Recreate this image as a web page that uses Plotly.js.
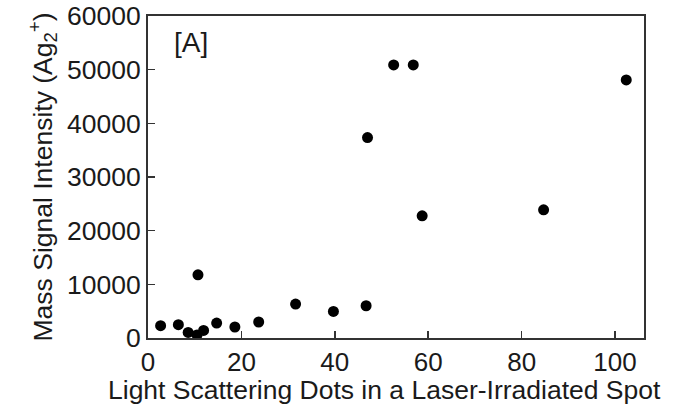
<!DOCTYPE html>
<html>
<head>
<meta charset="utf-8">
<script src="https://cdn.plot.ly/plotly-3.0.1.min.js"></script>
<style>html,body{margin:0;padding:0;background:#fff;}</style>
</head>
<body>
<div id="chart" style="width:673px;height:419px;"></div>
<script>
const dots = [2.7, 6.5, 8.6, 10.7, 10.5, 11.9, 14.7, 18.6, 23.7, 31.6, 39.7, 46.7, 47.0, 52.6, 56.8, 58.7, 84.7, 102.4];
const intensity = [2290, 2480, 1040, 11780, 560, 1420, 2790, 2050, 2980, 6330, 4950, 6010, 37340, 50880, 50880, 22770, 23880, 48090];
const xTicks = [0, 20, 40, 60, 80, 100];
const yTicks = [0, 10000, 20000, 30000, 40000, 50000, 60000];
const panelLabel = "[A]";
const xTitle = "Light Scattering Dots in a Laser-Irradiated Spot";
const yTitle = "Mass Signal Intensity (Ag<sub>2</sub><sup>+</sup>)";

const fontFam = "Liberation Sans, Arial, sans-serif";
const ink = "#1a1a1a";

const trace = {
  x: dots, y: intensity, type: "scatter", mode: "markers",
  marker: {color: "#000", size: 11, line: {width: 0}},
  hoverinfo: "x+y"
};

const layout = {
  width: 673, height: 419,
  margin: {l: 148, r: 29, t: 16, b: 81},
  paper_bgcolor: "#fff", plot_bgcolor: "#fff",
  showlegend: false,
  font: {family: fontFam, size: 26, color: ink},
  xaxis: {
    range: [0, 106.2], tickvals: xTicks, ticktext: xTicks.map(String),
    ticks: "inside", ticklen: 7, tickwidth: 1.5, tickcolor: "#333",
    showline: true, linecolor: "#333", linewidth: 2, mirror: true,
    showgrid: false, zeroline: false,
    tickfont: {family: fontFam, size: 26, color: ink}
  },
  yaxis: {
    range: [0, 60000], tickvals: yTicks, ticktext: yTicks.map(String),
    ticks: "inside", ticklen: 7, tickwidth: 1.5, tickcolor: "#333",
    showline: true, linecolor: "#333", linewidth: 2, mirror: true,
    showgrid: false, zeroline: false,
    tickfont: {family: fontFam, size: 26.5, color: ink},
    title: {text: yTitle, font: {family: fontFam, size: 26.5, color: ink}, standoff: 7}
  },
  annotations: [{
    text: panelLabel, xref: "paper", yref: "paper", x: 0.048, y: 0.919,
    xanchor: "left", yanchor: "middle", showarrow: false,
    font: {family: fontFam, size: 28, color: ink}
  }, {
    text: xTitle, xref: "paper", yref: "paper", x: 0.476, y: -0.163,
    xanchor: "center", yanchor: "middle", showarrow: false, borderpad: 0,
    font: {family: fontFam, size: 26.5, color: ink}
  }]
};

Plotly.newPlot("chart", [trace], layout, {displayModeBar: false, staticPlot: true});
</script>
</body>
</html>
